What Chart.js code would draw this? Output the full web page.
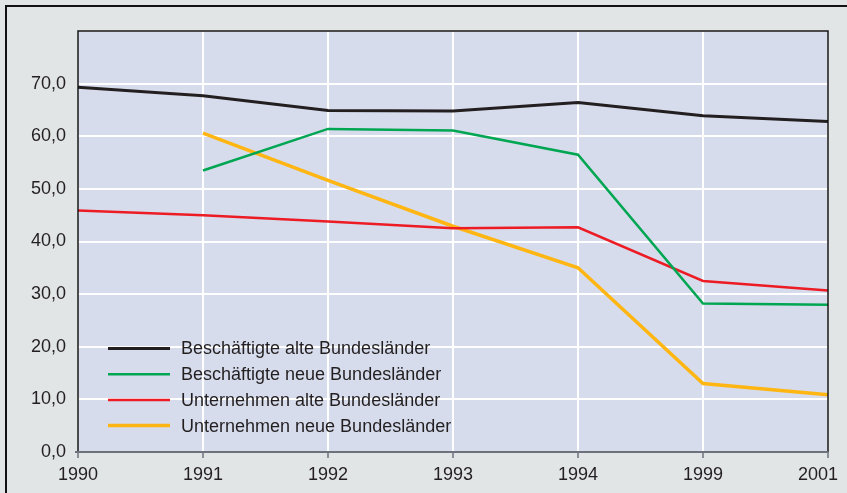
<!DOCTYPE html>
<html>
<head>
<meta charset="utf-8">
<script src="https://cdn.jsdelivr.net/npm/chart.js@4/dist/chart.umd.min.js"></script>
<style>
  html, body { margin: 0; padding: 0; background: #e2e5e5; }
  canvas { display: block; }
</style>
</head>
<body>
<canvas id="c" width="847" height="493"></canvas>
<script>
const categories = ['1990', '1991', '1992', '1993', '1994', '1999', '2001'];
const beschaeftigteAlt = [69.3, 67.7, 64.9, 64.8, 66.4, 63.9, 62.8];
const beschaeftigteNeu = [null, 53.5, 61.4, 61.1, 56.5, 28.2, 28.0];
const unternehmenAlt = [45.9, 45.0, 43.8, 42.5, 42.7, 32.5, 30.7];
const unternehmenNeu = [null, 60.6, 51.6, 42.9, 35.0, 13.0, 10.9];
const seriesLabels = [
  'Beschäftigte alte Bundesländer',
  'Beschäftigte neue Bundesländer',
  'Unternehmen alte Bundesländer',
  'Unternehmen neue Bundesländer'
];
const yMin = 0, yMax = 80, yStep = 10;

const FONT = '"Liberation Sans", Arial, Helvetica, sans-serif';
const TEXT = '#231f20';

const framePlugin = {
  id: 'frame',
  beforeDraw(chart) {
    const ctx = chart.ctx;
    const a = chart.chartArea;
    ctx.save();
    ctx.fillStyle = '#e2e5e5';
    ctx.fillRect(0, 0, chart.width, chart.height);
    ctx.strokeStyle = '#111';
    ctx.lineWidth = 2;
    ctx.beginPath();
    ctx.moveTo(6, chart.height);
    ctx.lineTo(6, 6);
    ctx.lineTo(chart.width, 6);
    ctx.stroke();
    ctx.fillStyle = '#d6dcec';
    ctx.fillRect(a.left, a.top, a.right - a.left, a.bottom - a.top);
    ctx.restore();
  },
  afterDraw(chart) {
    const ctx = chart.ctx;
    const a = chart.chartArea;
    ctx.save();
    ctx.strokeStyle = '#111';
    ctx.lineWidth = 1.5;
    ctx.beginPath();
    ctx.moveTo(a.left, a.bottom);
    ctx.lineTo(a.left, a.top);
    ctx.lineTo(a.right, a.top);
    ctx.lineTo(a.right, a.bottom);
    ctx.stroke();
    ctx.strokeStyle = '#6d717c';
    ctx.lineWidth = 2;
    ctx.beginPath();
    ctx.moveTo(a.left - 3, a.bottom);
    ctx.lineTo(a.right, a.bottom);
    ctx.stroke();
    ctx.restore();
  }
};

const legendPlugin = {
  id: 'innerLegend',
  afterDatasetsDraw(chart) {
    const ctx = chart.ctx;
    const a = chart.chartArea;
    const x0 = a.left + 30, x1 = a.left + 92, tx = a.left + 103;
    const y0 = 348.5, dy = 25.7;
    ctx.save();
    ctx.font = '18px ' + FONT;
    ctx.textBaseline = 'middle';
    ctx.textAlign = 'left';
    chart.data.datasets.forEach((ds, i) => {
      const y = y0 + i * dy;
      ctx.strokeStyle = ds.borderColor;
      ctx.lineWidth = ds.borderWidth;
      ctx.beginPath();
      ctx.moveTo(x0, y);
      ctx.lineTo(x1, y);
      ctx.stroke();
      ctx.fillStyle = TEXT;
      ctx.fillText(ds.label, tx, y + 1);
    });
    ctx.restore();
  }
};

new Chart(document.getElementById('c'), {
  type: 'line',
  data: {
    labels: categories,
    datasets: [
      { label: seriesLabels[0], data: beschaeftigteAlt, borderColor: '#231f20', borderWidth: 3 },
      { label: seriesLabels[1], data: beschaeftigteNeu, borderColor: '#00a651', borderWidth: 2.5 },
      { label: seriesLabels[2], data: unternehmenAlt, borderColor: '#ed1c24', borderWidth: 2.5 },
      { label: seriesLabels[3], data: unternehmenNeu, borderColor: '#ffb612', borderWidth: 3.5 }
    ]
  },
  options: {
    responsive: false,
    animation: false,
    devicePixelRatio: 1,
    layout: { padding: { left: 0, top: 31, right: 19, bottom: 0 } },
    elements: { point: { radius: 0, hoverRadius: 0 }, line: { tension: 0, fill: false } },
    plugins: { legend: { display: false }, tooltip: { enabled: false } },
    scales: {
      x: {
        type: 'category',
        offset: false,
        afterFit(s) { s.height = 41; s.paddingLeft = 0; s.paddingRight = 0; },
        grid: { color: '#ffffff', lineWidth: 2, drawTicks: true, tickLength: 6, tickColor: '#6d717c', tickWidth: 1.5 },
        border: { display: false },
        ticks: {
          color: TEXT, font: { family: FONT, size: 18 }, padding: 6, maxRotation: 0, autoSkip: false,
          callback: function (v, i, arr) {
            const t = this.getLabelForValue(v);
            return i === arr.length - 1 ? t + '    ' : t;
          }
        }
      },
      y: {
        min: yMin,
        max: yMax,
        afterFit(s) { s.width = 78; s.paddingTop = 0; s.paddingBottom = 0; },
        grid: { color: '#ffffff', lineWidth: 2, drawTicks: false },
        border: { display: false },
        ticks: {
          stepSize: yStep,
          color: TEXT,
          font: { family: FONT, size: 18 },
          padding: 12,
          callback: (v) => (v === yMax ? '' : v.toFixed(1).replace('.', ','))
        }
      }
    }
  },
  plugins: [framePlugin, legendPlugin]
});
</script>
</body>
</html>
